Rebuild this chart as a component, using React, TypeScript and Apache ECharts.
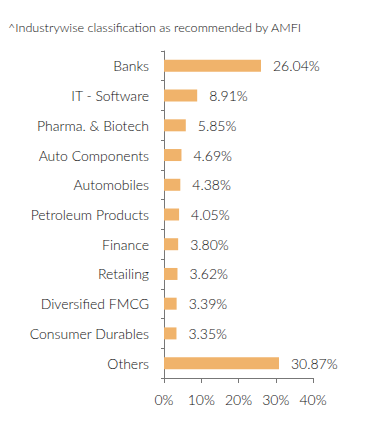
import React, { useEffect, useRef } from "react";
import * as echarts from "echarts";

const categories = [
  "Banks",
  "IT - Software",
  "Pharma. & Biotech",
  "Auto Components",
  "Automobiles",
  "Petroleum Products",
  "Finance",
  "Retailing",
  "Diversified FMCG",
  "Consumer Durables",
  "Others",
];
const values = [26.04, 8.91, 5.85, 4.69, 4.38, 4.05, 3.8, 3.62, 3.39, 3.35, 30.87];
const note = "^Industrywise classification as recommended by AMFI";

export default function App() {
  const ref = useRef<HTMLDivElement>(null);
  useEffect(() => {
    const chart = echarts.init(ref.current!, null, { renderer: "svg" });
    const font = { fontFamily: "Lato", fontWeight: 300 as any, color: "#111" };
    chart.setOption({
      animation: false,
      graphic: [
        {
          type: "text",
          left: 8,
          top: 21,
          style: { text: note, fontFamily: "Lato", fontWeight: 300, fontSize: 12.6, fill: "#111" },
        },
      ],
      grid: { left: 164, right: 78, top: 51, bottom: 57, containLabel: false },
      xAxis: {
        type: "value",
        min: 0,
        max: 40,
        interval: 10,
        axisLine: { show: true, lineStyle: { color: "#777" } },
        axisTick: { show: true, length: 5, lineStyle: { color: "#777" } },
        splitLine: { show: false },
        axisLabel: { formatter: "{value}%", fontSize: 14, margin: 14, ...font },
      },
      yAxis: {
        type: "category",
        data: categories,
        inverse: true,
        axisLine: { show: true, lineStyle: { color: "#777" } },
        axisTick: { show: true, length: 3, lineStyle: { color: "#777" } },
        axisLabel: { fontSize: 14, margin: 15, ...font },
      },
      series: [
        {
          type: "bar",
          data: values,
          barWidth: 12,
          itemStyle: { color: "#F0B36B" },
          label: {
            show: true,
            position: "right",
            distance: 12,
            formatter: (p: any) => p.value.toFixed(2) + "%",
            fontSize: 14,
            ...font,
          },
        },
      ],
    });
    return () => chart.dispose();
  }, []);
  return <div ref={ref} style={{ width: 391, height: 435, position: "absolute", left: 0, top: 0 }} />;
}
